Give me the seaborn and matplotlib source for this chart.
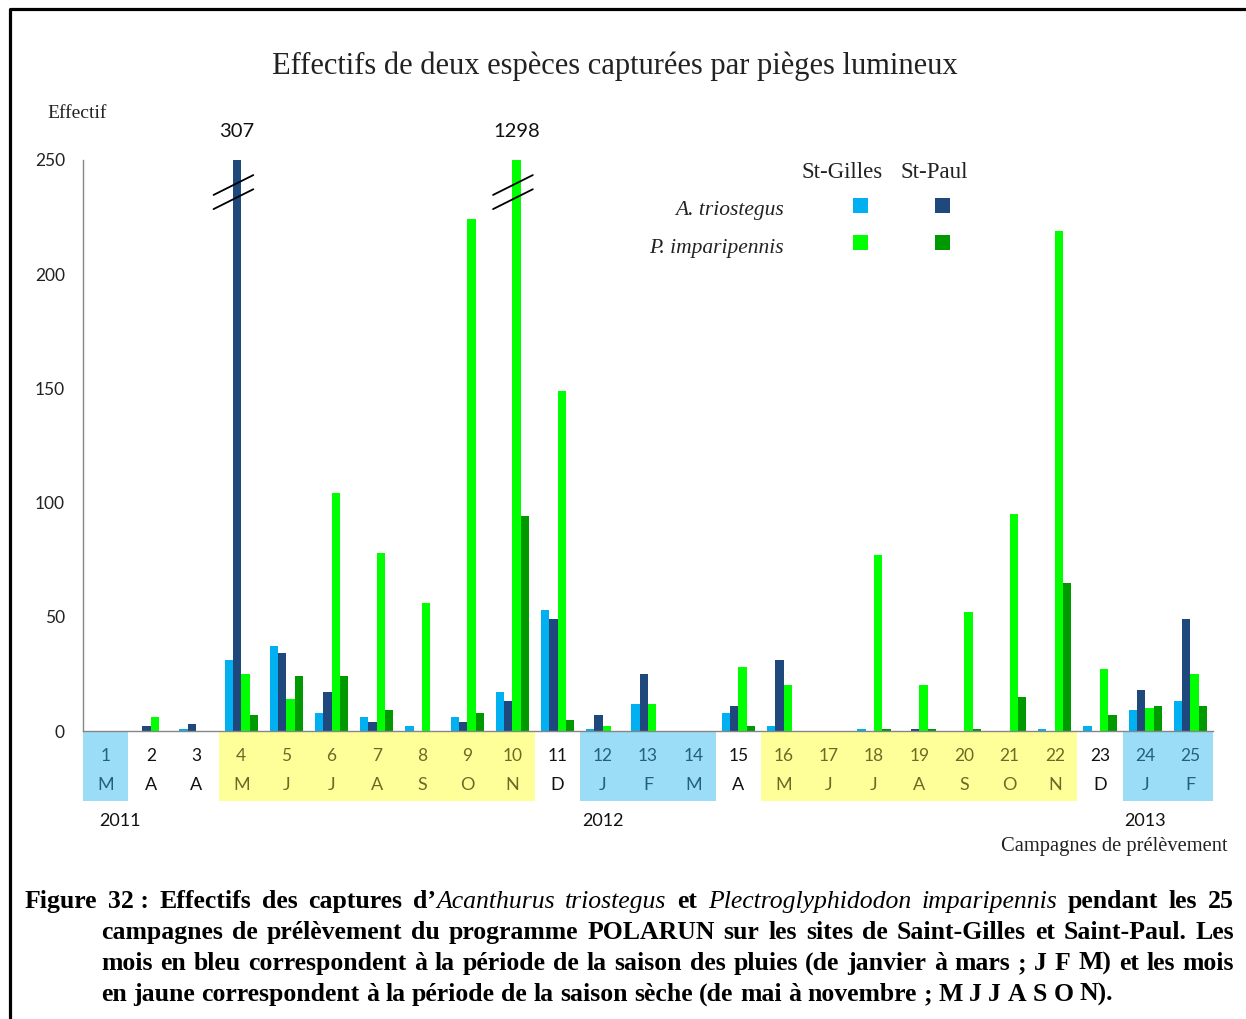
import matplotlib
matplotlib.use('Agg')
import pandas as pd
import seaborn as sns
import matplotlib.pyplot as plt
import matplotlib.transforms as mtransforms
from matplotlib.patches import Rectangle
from matplotlib.lines import Line2D


# data
campagnes = ['1', '2', '3', '4', '5', '6', '7', '8', '9', '10', '11', '12', '13',
             '14', '15', '16', '17', '18', '19', '20', '21', '22', '23', '24', '25']
mois = ['M', 'A', 'A', 'M', 'J', 'J', 'A', 'S', 'O', 'N', 'D', 'J', 'F',
        'M', 'A', 'M', 'J', 'J', 'A', 'S', 'O', 'N', 'D', 'J', 'F']
# P = saison des pluies, S = saison sèche, '' = hors saison
saisons = ['P', '', '', 'S', 'S', 'S', 'S', 'S', 'S', 'S', '', 'P', 'P',
           'P', '', 'S', 'S', 'S', 'S', 'S', 'S', 'S', '', 'P', 'P']
annees = ['2011', '2012', '2013']
annees_campagne = ['1', '12', '24']

triostegus_st_gilles = [0, 0, 1, 31, 37, 8, 6, 2, 6, 17, 53, 1, 12,
                        0, 8, 2, 0, 1, 0, 0, 0, 1, 2, 9, 13]
triostegus_st_paul = [0, 2, 3, 307, 34, 17, 4, 0, 4, 13, 49, 7, 25,
                      0, 11, 31, 0, 0, 1, 0, 0, 0, 0, 18, 49]
imparipennis_st_gilles = [0, 6, 0, 25, 14, 104, 78, 56, 224, 1298, 149, 2, 12,
                          0, 28, 20, 0, 77, 20, 52, 95, 219, 27, 10, 25]
imparipennis_st_paul = [0, 0, 0, 7, 24, 24, 9, 0, 8, 94, 5, 0, 0,
                        0, 2, 0, 0, 1, 1, 1, 15, 65, 7, 11, 11]

series = ['A. triostegus St-Gilles', 'A. triostegus St-Paul',
          'P. imparipennis St-Gilles', 'P. imparipennis St-Paul']
couleurs = ['#00b0f0', '#1f497d', '#00ff00', '#009900']

W, H = 1246, 1019
SERIF = 'Liberation Serif'
SANS = 'Lato'
GRIS = '#868686'
YMAX = 250
FOND_SAISON = {'P': '#9bddf6', 'S': '#ffff99'}
TEXTE_SAISON = {'P': '#23607c', 'S': '#6b6b26', '': '#111111'}


def fxy(x, y):
    return x / W, 1 - y / H


def build_frame():
    valeurs = [triostegus_st_gilles, triostegus_st_paul,
               imparipennis_st_gilles, imparipennis_st_paul]
    rows = []
    for serie, vals in zip(series, valeurs):
        for c, v in zip(campagnes, vals):
            rows.append({'campagne': c, 'serie': serie, 'effectif': v})
    return pd.DataFrame(rows)


def plot_bars(fig, data):
    ax = fig.add_axes([83 / W, 1 - 731 / H, (1213 - 83) / W, (731 - 160) / H])
    sns.barplot(data=data, x='campagne', y='effectif', hue='serie',
                order=campagnes, hue_order=series, palette=couleurs,
                saturation=1, width=0.735, gap=0, linewidth=0,
                errorbar=None, legend=False, ax=ax)
    ax.set_xlim(-0.5, len(campagnes) - 0.5)
    ax.set_ylim(0, YMAX)
    ax.set_xlabel('')
    ax.set_ylabel('')
    for side in ['top', 'right']:
        ax.spines[side].set_visible(False)
    for side in ['left', 'bottom']:
        ax.spines[side].set_color(GRIS)
        ax.spines[side].set_linewidth(1)
    ax.set_yticks([0, 50, 100, 150, 200, 250])
    ax.tick_params(axis='y', direction='out', length=5, color=GRIS,
                   labelsize=12.5, labelcolor='#222222', pad=8)
    for lab in ax.get_yticklabels():
        lab.set_family(SANS)
    ax.set_xticks([i - 0.5 for i in range(len(campagnes) + 1)])
    ax.set_xticklabels([])
    ax.tick_params(axis='x', direction='out', length=6, color=GRIS)

    # bars cut by the axis: break marks and the true value above
    for p in ax.patches:
        h = p.get_height()
        if h > YMAX:
            cx = p.get_x() + p.get_width() / 2
            for dy in (0, -6.2):
                ax.plot([cx - 0.52, cx + 0.36], [234.7 + dy, 243.4 + dy],
                        color='black', lw=1.3, clip_on=False, zorder=5)
            ax.text(cx, 262.5, '{:d}'.format(int(h)), ha='center', va='center',
                    family=SANS, fontsize=14.5, color='#111111', clip_on=False)
    return ax


def plot_table(ax):
    trans = mtransforms.blended_transform_factory(ax.transData, ax.transAxes)
    hax = 731 - 160
    for i, (c, m, s) in enumerate(zip(campagnes, mois, saisons)):
        if s:
            ax.add_patch(Rectangle((i - 0.5, -70 / hax), 1, 70 / hax,
                                   transform=trans, color=FOND_SAISON[s],
                                   lw=0, clip_on=False, zorder=1))
        ax.text(i, -25 / hax, c, transform=trans, ha='center', va='center',
                family=SANS, fontsize=12.5, color=TEXTE_SAISON[s])
        ax.text(i, -54 / hax, m, transform=trans, ha='center', va='center',
                family=SANS, fontsize=13, color=TEXTE_SAISON[s])
    for a, c in zip(annees, annees_campagne):
        x = campagnes.index(c) + (0.32 if a == '2011' else 0)
        ax.text(x, -90 / hax, a, transform=trans, ha='center', va='center',
                family=SANS, fontsize=13, color='#111111')


def plot_texts(fig):
    fig.text(*fxy(615, 66), 'Effectifs de deux espèces capturées par pièges lumineux',
             ha='center', va='center', family=SERIF, fontsize=22, color='#222222')
    fig.text(*fxy(47, 114), 'Effectif', ha='left', va='center',
             family=SERIF, fontsize=14, color='#222222')
    fig.text(*fxy(1228, 846), 'Campagnes de prélèvement', ha='right', va='center',
             family=SERIF, fontsize=14.8, color='#222222')

    # legend
    fig.text(*fxy(842, 173), 'St-Gilles', ha='center', va='center',
             family=SERIF, fontsize=16.5, color='#222222')
    fig.text(*fxy(934, 173), 'St-Paul', ha='center', va='center',
             family=SERIF, fontsize=16.5, color='#222222')
    fig.text(*fxy(784, 210), 'A. triostegus', ha='right', va='center',
             family=SERIF, style='italic', fontsize=15.5, color='#222222')
    fig.text(*fxy(784, 248), 'P. imparipennis', ha='right', va='center',
             family=SERIF, style='italic', fontsize=15.5, color='#222222')
    for (x, y), col in zip([(860, 205), (942, 205), (860, 242), (942, 242)], couleurs):
        x0, y0 = fxy(x - 7.5, y + 7.5)
        fig.add_artist(Rectangle((x0, y0), 15 / W, 15 / H, color=col, lw=0,
                                 transform=fig.transFigure))

    # frame
    fig.add_artist(Line2D([10 / W, 10 / W, 1], [0, 1 - 9 / H, 1 - 9 / H],
                          color='black', lw=2.3, transform=fig.transFigure))


def mots(s, st='b'):
    return [[(w, st)] for w in s.split()]


def caption_style(st, size):
    if st == 'i':
        return dict(family=SERIF, style='italic', weight='normal', fontsize=size)
    return dict(family=SERIF, weight='bold', fontsize=size)


def measure(fig, renderer, words, size):
    largeurs = []
    for w in words:
        segs = []
        for txt, st in w:
            t = fig.text(0, 0, txt, **caption_style(st, size))
            segs.append(t.get_window_extent(renderer).width)
            t.remove()
        largeurs.append(segs)
    return largeurs


def natural_width(fig, renderer, words, size):
    larg = measure(fig, renderer, words, size)
    return sum(sum(s) for s in larg) + size * 100 / 72 * 0.25 * (len(words) - 1)


def draw_caption_line(fig, renderer, words, x0, x1, y, justify, size):
    largeurs = measure(fig, renderer, words, size)
    total = sum(sum(s) for s in largeurs)
    espace = size * 100 / 72 * 0.25
    if justify and len(words) > 1:
        espace = (x1 - x0 - total) / (len(words) - 1)
    x = x0
    for w, segs in zip(words, largeurs):
        for (txt, st), lw in zip(w, segs):
            fig.text(*fxy(x, y), txt, ha='left', va='baseline', color='black',
                     **caption_style(st, size))
            x += lw
        x += espace


def plot_caption(fig):
    renderer = fig.canvas.get_renderer()
    ligne1 = (mots('Figure') + [[('32 :', 'b')]] + mots('Effectifs des captures')
              + [[('d’', 'b'), ('Acanthurus', 'i')]] + mots('triostegus', 'i')
              + mots('et') + mots('Plectroglyphidodon imparipennis', 'i')
              + mots('pendant les 25'))
    ligne2 = mots('campagnes de prélèvement du programme POLARUN sur les sites '
                  'de Saint-Gilles et Saint-Paul. Les')
    ligne3 = mots('mois en bleu correspondent à la période de la saison des pluies '
                  '(de janvier à mars ; J F M) et les mois')
    ligne4 = mots('en jaune correspondent à la période de la saison sèche '
                  '(de mai à novembre ; M J J A S O N).')
    lignes = [(ligne1, 25, 1234, 908, True), (ligne2, 101, 1234, 939, True),
              (ligne3, 101, 1234, 970, True), (ligne4, 101, 1125, 1001, False)]
    # largest size that keeps every line within its width
    size = 18.5
    for words, x0, x1, _, _ in lignes:
        nat = natural_width(fig, renderer, words, 10)
        size = min(size, 10 * (x1 - x0) / nat * 0.99)
    for words, x0, x1, y, just in lignes:
        draw_caption_line(fig, renderer, words, x0, x1, y, just, size)


def main():
    sns.set_theme(style='white')
    plt.rcParams['font.family'] = [SERIF, 'DejaVu Sans']
    fig = plt.figure(figsize=(W / 100, H / 100), dpi=100)
    data = build_frame()
    ax = plot_bars(fig, data)
    plot_table(ax)
    plot_texts(fig)
    plot_caption(fig)
    fig.savefig('out.png', dpi=100)


if __name__ == '__main__':
    main()
